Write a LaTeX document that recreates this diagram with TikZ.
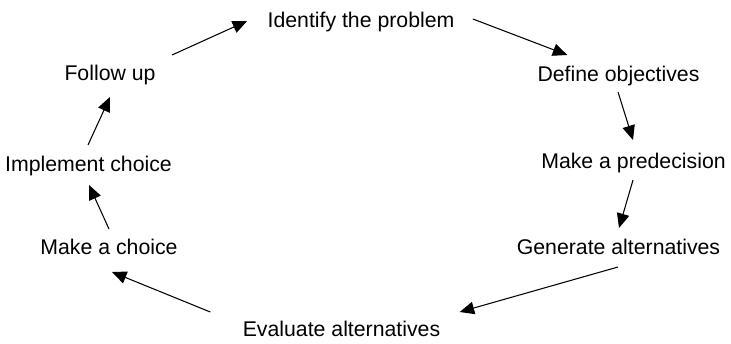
\documentclass[tikz,border=0pt]{standalone}
\usepackage{fontspec}
\setmainfont{Liberation Sans}
\usepackage{tikz}
\usetikzlibrary{arrows.meta}

\begin{document}
\begin{tikzpicture}[
	stage/.style={inner sep=0,outer sep=0,text height=.30cm,text depth=.08cm,anchor=base,font=\fontsize{12.1}{14}\selectfont},
	arr/.style={line width=.6pt,-{Triangle[length=.29cm,width=.25cm]}}]
	\useasboundingbox (0,0) rectangle (14.62,6.86);
	\node[stage] (ip) at (7.22,6.32) {Identify the problem};
	\node[stage] (dob) at (12.37,5.24) {Define objectives};
	\node[stage] (mp) at (12.67,3.50) {Make a predecision};
	\node[stage] (ga) at (12.37,1.78) {Generate alternatives};
	\node[stage] (ea) at (6.83,0.14) {Evaluate alternatives};
	\node[stage] (mc) at (2.18,1.78) {Make a choice};
	\node[stage] (ic) at (1.77,3.44) {Implement choice};
	\node[stage] (fu) at (2.20,5.26) {Follow up};
	% the cycle
	\draw[arr] ([shift={(.33,.20)}]fu.north east) -- ([shift={(-.41,.01)}]ip.west);
	\draw[arr] ([shift={(.37,.05)}]ip.east) -- ([shift={(.595,.22)}]dob.north west);
	\draw[arr] ([shift={(-.01,-.14)}]dob.south) -- ([shift={(-.01,.26)}]mp.north);
	\draw[arr] ([shift={(-.01,-.16)}]mp.south) -- ([shift={(.01,.22)}]ga.north);
	\draw[arr] ([shift={(-.01,-.18)}]ga.south) -- ([shift={(.39,.18)}]ea.north east);
	\draw[arr] ([shift={(-.65,.18)}]ea.north west) -- ([shift={(.06,-.28)}]mc.south);
	\draw[arr] ([yshift=.20cm]mc.north) -- ([shift={(.01,-.20)}]ic.south);
	\draw[arr] ([shift={(-.01,.22)}]ic.north) -- ([yshift=-.26cm]fu.south);
\end{tikzpicture}
\end{document}
